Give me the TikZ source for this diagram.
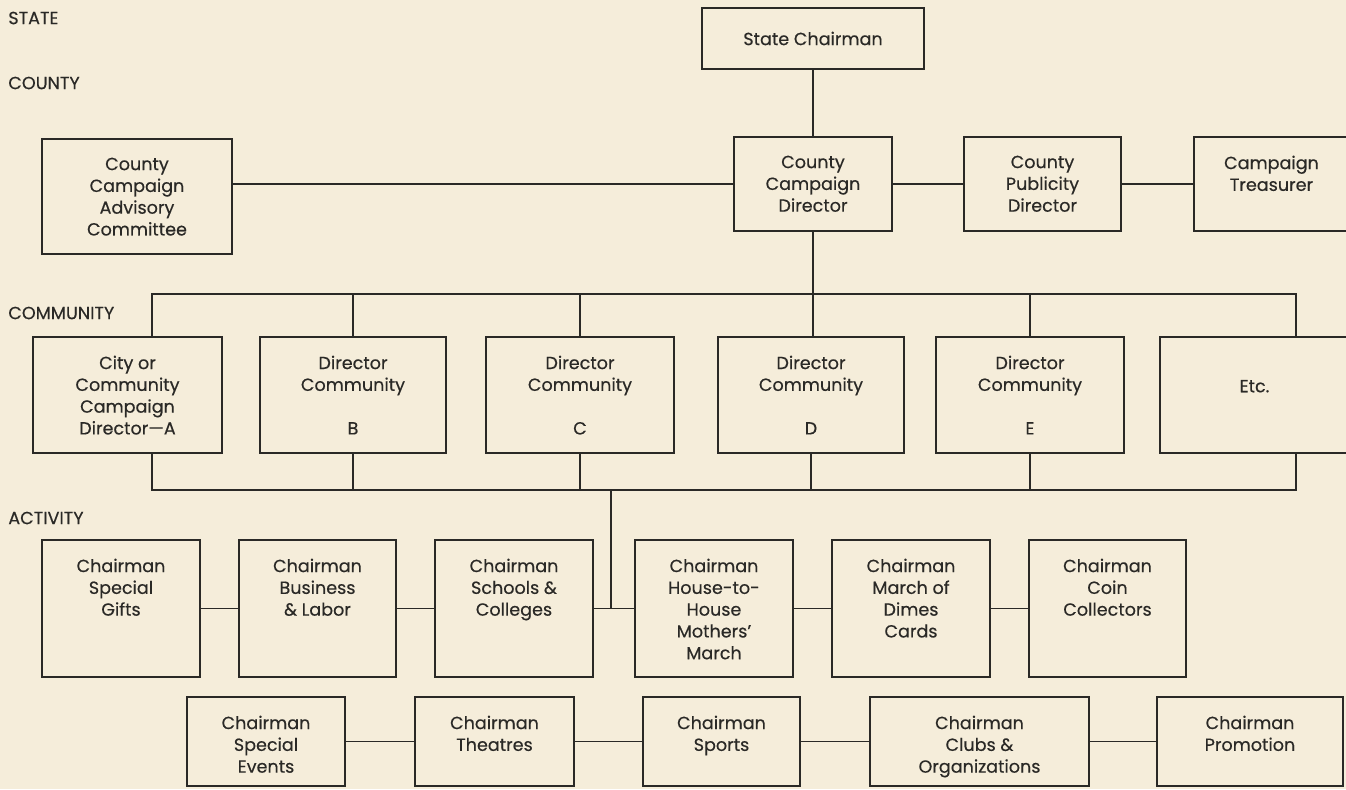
\documentclass[tikz,border=0pt]{standalone}
\usepackage{fontspec}
\setmainfont{Poppins}[FakeBold=0.4]
\usetikzlibrary{positioning, fit}
\definecolor{paper}{HTML}{F5EDDA}
\definecolor{ink}{HTML}{2A2926}

\begin{document}
\begin{tikzpicture}[x=0.02cm, y=-0.02cm,
  box/.style={draw=ink, line width=1.1pt, inner sep=0pt},
  txt/.style={text=ink, font=\fontsize{10}{12.4}\selectfont, align=center, inner sep=0pt},
  lvl/.style={text=ink, font=\fontsize{10}{12}\selectfont, anchor=west, inner sep=0pt},
  wire/.style={draw=ink, line width=1.1pt}]

% Background
\useasboundingbox (0,0) rectangle (1346,789);
\clip (0,0) rectangle (1346,789);
\fill[paper] (0,0) rectangle (1346,789);

% Level labels
\node[lvl] (lstate) at (8,18) {STATE};
\node[lvl] (lcounty) at (8,83) {COUNTY};
\node[lvl] (lcommunity) at (8,313) {COMMUNITY};
\node[lvl] (lactivity) at (8,518) {ACTIVITY};

% State
\node[box, fit={(702,8) (924,69)}] (state) {};
\node[txt] (state-t) at (state.center) {State Chairman};

% County row
\node[box, fit={(42,139) (232,254)}] (adv) {};
\node[txt, below=11pt of adv.north] (adv-t) {County\\Campaign\\Advisory\\Committee};
\node[box, fit={(734,137) (892,231)}] (dir) {};
\node[txt, below=11pt of dir.north] (dir-t) {County\\Campaign\\Director};
\node[box, fit={(964,137) (1121,231)}] (pub) {};
\node[txt, below=11pt of pub.north] (pub-t) {County\\Publicity\\Director};
\node[box, fit={(1194,137) (1356,231)}] (tre) {};
\node[txt, below=11pt of tre.north, xshift=-2pt] (tre-t) {Campaign\\Treasurer};

\draw[wire] (state) -- (dir);
\draw[wire] (dir.west) -- (dir.west -| adv.east);
\draw[wire] (dir.east) -- (pub.west);
\draw[wire] (pub.east) -- (tre.west);

% Community row
\node[box, fit={(33,337) (222,453)}] (comA) {};
\node[txt, below=11pt of comA.north] (comA-t) {City or\\Community\\Campaign\\Director---A};
\node[box, fit={(260,337) (446,453)}] (comB) {};
\node[txt, below=11pt of comB.north] (comB-t) {Director\\Community\\[12.4pt]B};
\node[box, fit={(486,337) (674,453)}] (comC) {};
\node[txt, below=11pt of comC.north] (comC-t) {Director\\Community\\[12.4pt]C};
\node[box, fit={(718,337) (904,453)}] (comD) {};
\node[txt, below=11pt of comD.north] (comD-t) {Director\\Community\\[12.4pt]D};
\node[box, fit={(936,337) (1124,453)}] (comE) {};
\node[txt, below=11pt of comE.north] (comE-t) {Director\\Community\\[12.4pt]E};
\node[box, fit={(1160,337) (1356,453)}] (etc) {};
\node[txt, xshift=-2pt, yshift=5pt] (etc-t) at (etc.center) {Etc.};

% Community bus (top)
\coordinate (ta) at (152,294);
\coordinate (te) at (1296,294);
\draw[wire] (comA.north -| ta) -- (ta) -- (te) -- (etc.north -| te);
\draw[wire] (dir.south) -- (dir.south |- comD.north);
\foreach \c in {comB, comC, comE}
  \draw[wire] (\c.north) -- (\c.north |- ta);

% Community bus (bottom)
\coordinate (ba) at (152,490);
\coordinate (be) at (1296,490);
\draw[wire] (comA.south -| ba) -- (ba) -- (be) -- (etc.south -| be);
\foreach \c in {comB, comC, comD, comE}
  \draw[wire] (\c.south) -- (\c.south |- ba);

% Activity row 1
\node[box, fit={(42,540) (200,677)}] (gifts) {};
\node[txt, below=11pt of gifts.north] (gifts-t) {Chairman\\Special\\Gifts};
\node[box, fit={(239,540) (396,677)}] (labor) {};
\node[txt, below=11pt of labor.north] (labor-t) {Chairman\\Business\\\& Labor};
\node[box, fit={(435,540) (593,677)}] (schools) {};
\node[txt, below=11pt of schools.north] (schools-t) {Chairman\\Schools \&\\Colleges};
\node[box, fit={(635,540) (793,677)}] (house) {};
\node[txt, below=11pt of house.north] (house-t) {Chairman\\House-to-\\House\\Mothers'\\March};
\node[box, fit={(832,540) (990,677)}] (dimes) {};
\node[txt, below=11pt of dimes.north] (dimes-t) {Chairman\\March of\\Dimes\\Cards};
\node[box, fit={(1029,540) (1186,677)}] (coin) {};
\node[txt, below=11pt of coin.north] (coin-t) {Chairman\\Coin\\Collectors};

\draw[wire] (gifts) -- (labor);
\draw[wire] (labor) -- (schools);
\draw[wire] (schools) -- (house);
\draw[wire] (house) -- (dimes);
\draw[wire] (dimes) -- (coin);

% Drop from community bus to activity row
\coordinate (bx) at (611,490);
\draw[wire] (bx) -- (bx |- schools.east);

% Activity row 2
\node[box, fit={(187,697) (345,786)}] (events) {};
\node[txt, below=11pt of events.north] (events-t) {Chairman\\Special\\Events};
\node[box, fit={(415,697) (574,786)}] (theatres) {};
\node[txt, below=11pt of theatres.north] (theatres-t) {Chairman\\Theatres};
\node[box, fit={(643,697) (800,786)}] (sports) {};
\node[txt, below=11pt of sports.north] (sports-t) {Chairman\\Sports};
\node[box, fit={(870,697) (1089,786)}] (clubs) {};
\node[txt, below=11pt of clubs.north] (clubs-t) {Chairman\\Clubs \&\\Organizations};
\node[box, fit={(1157,697) (1343,786)}] (promo) {};
\node[txt, below=11pt of promo.north] (promo-t) {Chairman\\Promotion};

\draw[wire] (events) -- (theatres);
\draw[wire] (theatres) -- (sports);
\draw[wire] (sports) -- (clubs);
\draw[wire] (clubs) -- (promo);

\end{tikzpicture}
\end{document}
